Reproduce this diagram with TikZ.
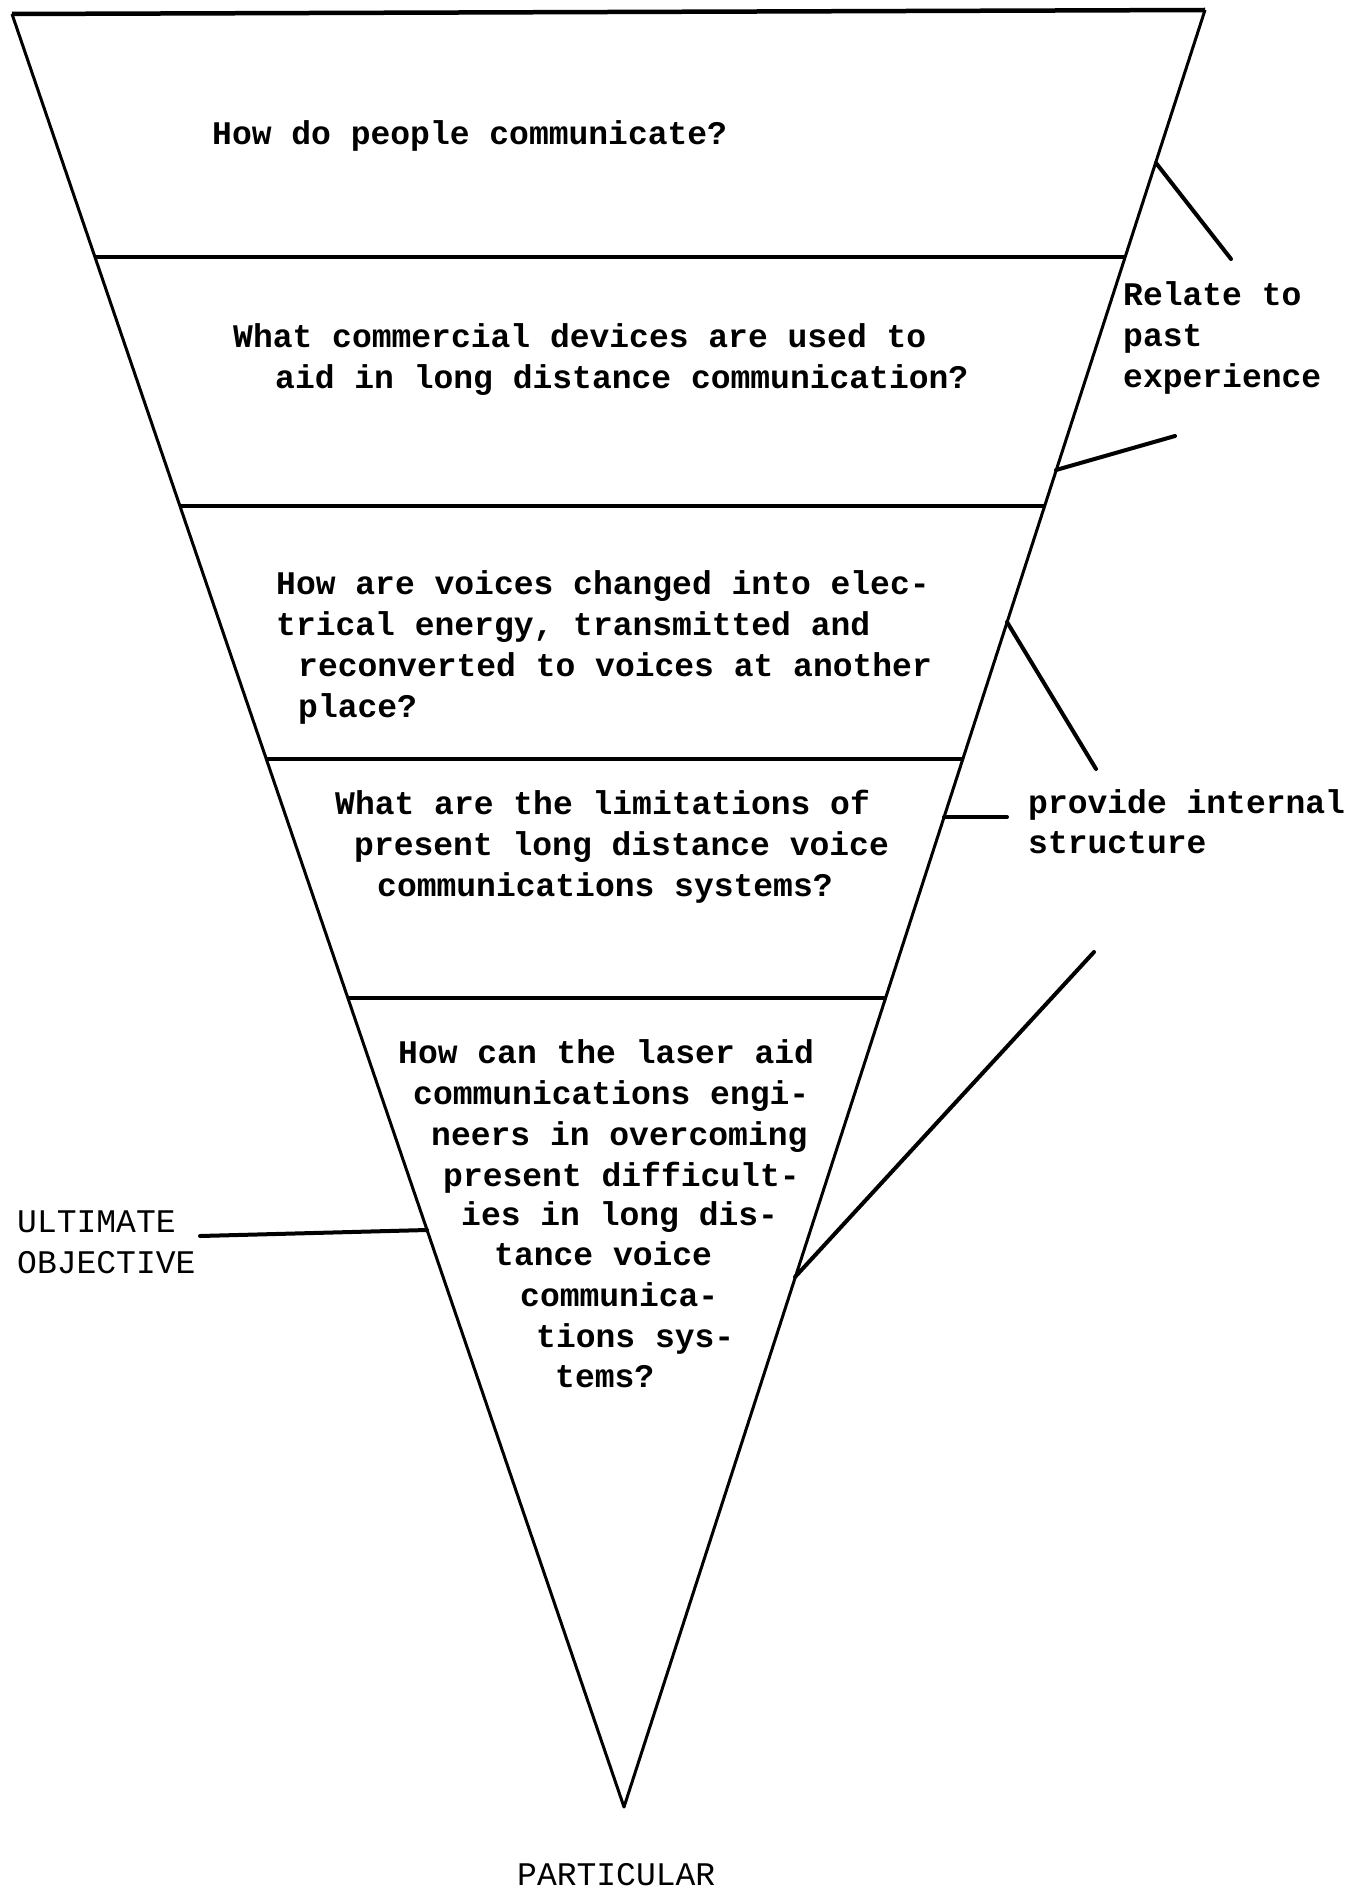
\documentclass[tikz,border=0pt]{standalone}
\usepackage{fontspec}
\setmonofont{Liberation Mono}
\begin{document}
\begin{tikzpicture}[x=1pt,y=-1pt,
  txt/.style={anchor=base west, inner sep=0pt, font=\fontsize{33}{41}\selectfont\ttfamily\bfseries},
  lbl/.style={anchor=base west, inner sep=0pt, font=\fontsize{33}{41}\selectfont\ttfamily},
  edgeline/.style={line width=3pt, line join=round},
  bar/.style={line width=4.5pt},
  lead/.style={line width=4pt, line cap=round}]
\useasboundingbox (0,0) rectangle (1353,1889);
% triangle corners
\coordinate (TL) at (12,14);
\coordinate (TR) at (1205,10);
\coordinate (AP) at (624,1807);
\draw[edgeline] (TL) -- (AP) -- (TR);
\draw[bar] (TL) -- (TR);
% dividing bars
\coordinate (L1) at (95,257);  \coordinate (R1) at (1125,257);
\coordinate (L2) at (180,506); \coordinate (R2) at (1045,506);
\coordinate (L3) at (266,759); \coordinate (R3) at (963,759);
\coordinate (L4) at (348,998); \coordinate (R4) at (886,998);
\draw[bar] (L1) -- (R1);
\draw[bar] (L2) -- (R2);
\draw[bar] (L3) -- (R3);
\draw[bar] (L4) -- (R4);
% texts
\node[txt] (q1) at (212,145) {How do people communicate?};
\node[txt] (q2a) at (233,347) {What commercial devices are used to};
\node[txt] (q2b) at (275,388) {aid in long distance communication?};
\node[txt] (q3a) at (276,594) {How are voices changed into elec-};
\node[txt] (q3b) at (276,635) {trical energy, transmitted and};
\node[txt] (q3c) at (298,676) {reconverted to voices at another};
\node[txt] (q3d) at (298,717) {place?};
\node[txt] (q4a) at (335,814) {What are the limitations of};
\node[txt] (q4b) at (354,855) {present long distance voice};
\node[txt] (q4c) at (377,896) {communications systems?};
\node[txt] (q5a) at (398,1063) {How can the laser aid};
\node[txt] (q5b) at (413,1104) {communications engi-};
\node[txt] (q5c) at (431,1145) {neers in overcoming};
\node[txt] (q5d) at (443,1186) {present difficult-};
\node[txt] (q5e) at (461,1225) {ies in long dis-};
\node[txt] (q5f) at (494,1265) {tance voice};
\node[txt] (q5g) at (520,1306) {communica-};
\node[txt] (q5h) at (536,1347) {tions sys-};
\node[txt] (q5i) at (555,1387) {tems?};
% side labels
\node[txt] (rel1) at (1123,305) {Relate to};
\node[txt] (rel2) at (1123,346) {past};
\node[txt] (rel3) at (1123,387) {experience};
\node[txt] (pro1) at (1028,813) {provide internal};
\node[txt] (pro2) at (1028,853) {structure};
\node[lbl] (ult1) at (17,1232) {ULTIMATE};
\node[lbl] (ult2) at (17,1273) {OBJECTIVE};
\node[lbl] (part) at (517,1885) {PARTICULAR};
% leader lines
\coordinate (e1) at (1156,163);  \coordinate (f1) at (1231,259);
\coordinate (e2) at (1056,470);  \coordinate (f2) at (1175,436);
\coordinate (e3) at (1007,622);  \coordinate (f3) at (1096,769);
\coordinate (e4) at (944,817);   \coordinate (f4) at (1007,817);
\coordinate (e5) at (795,1277);  \coordinate (f5) at (1094,952);
\coordinate (e6) at (427,1230);  \coordinate (f6) at (200,1236);
\draw[lead] (e1) -- (f1);
\draw[lead] (e2) -- (f2);
\draw[lead] (e3) -- (f3);
\draw[lead] (e4) -- (f4);
\draw[lead] (e5) -- (f5);
\draw[lead] (e6) -- (f6);
\end{tikzpicture}
\end{document}
